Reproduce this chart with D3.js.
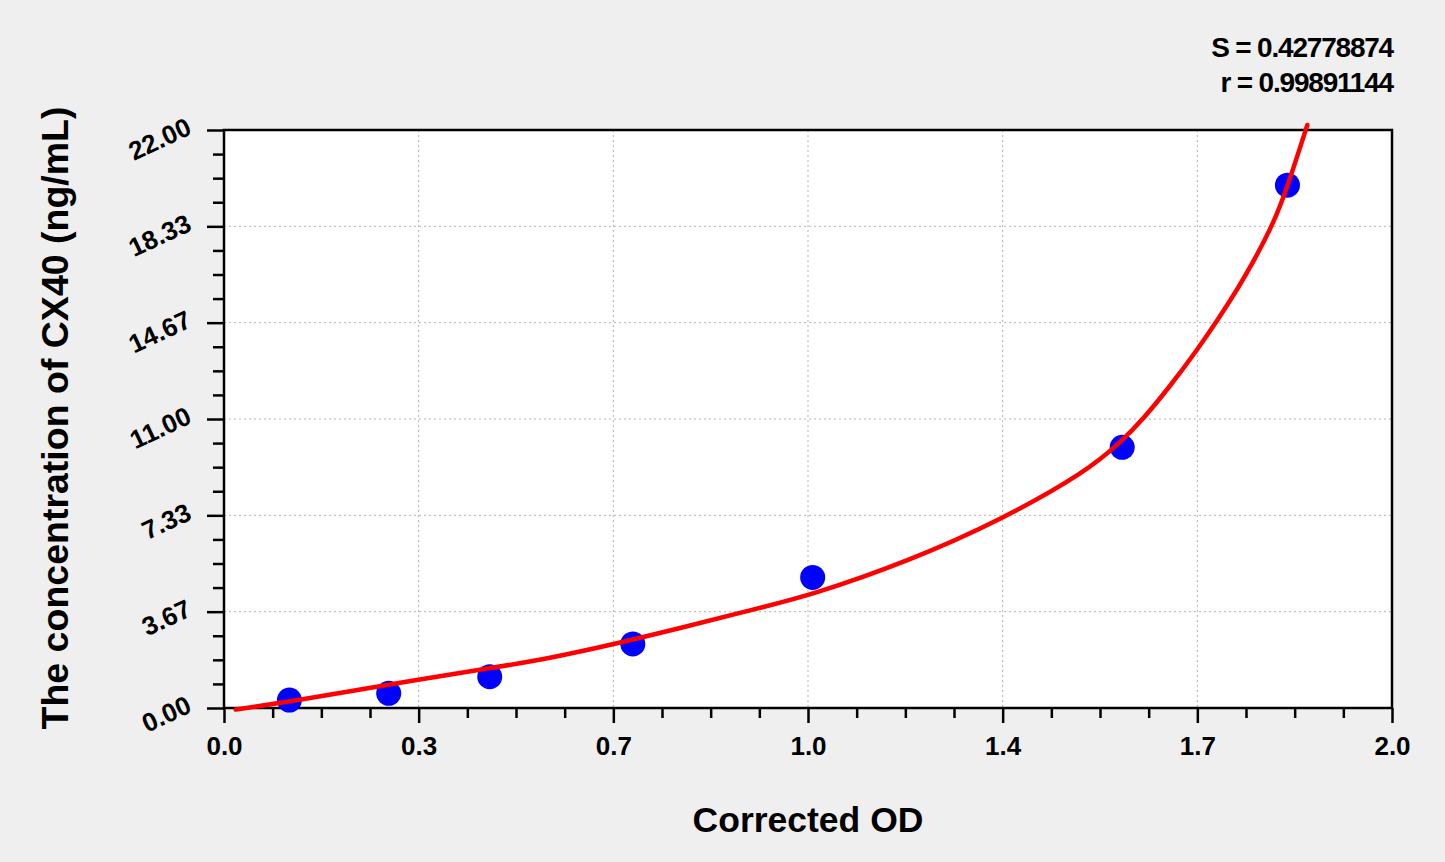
<!DOCTYPE html>
<html>
<head>
<meta charset="utf-8">
<script src="https://cdn.jsdelivr.net/npm/d3@7"></script>
<style>
  body { margin: 0; background: #efefef; }
  svg { display: block; font-family: "Liberation Sans", Arial, sans-serif; }
</style>
</head>
<body>
<svg width="1445" height="862"></svg>
<script>
// standards (corrected OD, concentration)
const odValues = [0.112, 0.282, 0.455, 0.700, 1.008, 1.538, 1.821];
const concValues = [0.30, 0.56, 1.19, 2.44, 4.97, 9.92, 19.9];

// fitted curve
const curveOd = [0.020, 0.130, 0.329, 0.455, 0.558, 0.700, 0.918, 1.000, 1.175, 1.334, 1.477, 1.537, 1.574, 1.620, 1.667, 1.701, 1.737, 1.763, 1.797, 1.819, 1.855];
const curveConc = [-0.06, 0.30, 1.07, 1.51, 1.89, 2.58, 3.82, 4.26, 5.61, 7.20, 9.00, 10.15, 11.00, 12.25, 13.65, 14.75, 16.00, 17.00, 18.45, 19.70, 22.19];

const xTickLabels = ["0.0", "0.3", "0.7", "1.0", "1.4", "1.7", "2.0"];
const yTickLabels = ["0.00", "3.67", "7.33", "11.00", "14.67", "18.33", "22.00"];
const statLines = ["S = 0.42778874", "r = 0.99891144"];

const plotLeft = 224, plotRight = 1392, plotTop = 130, plotBottom = 708;

const x = d3.scaleLinear().domain([0, 2]).range([plotLeft, plotRight]);
const y = d3.scaleLinear().domain([0, 22]).range([plotBottom, plotTop]);

const xMajor = d3.range(7).map(i => i * 2 / 6);
const xMinor = d3.range(25).map(i => i / 12).filter((d, i) => i % 4 !== 0);
const yMajor = d3.range(7).map(i => i * 22 / 6);
const yMinor = d3.range(25).map(i => i * 22 / 24).filter((d, i) => i % 4 !== 0);

const svg = d3.select("svg");

svg.append("rect")
    .attr("x", plotLeft).attr("y", plotTop)
    .attr("width", plotRight - plotLeft).attr("height", plotBottom - plotTop)
    .attr("fill", "#fff");

// grid
const grid = svg.append("g")
    .attr("stroke", "#b4b4b4")
    .attr("stroke-width", 1)
    .attr("stroke-dasharray", "2,3");
grid.selectAll("line.v")
    .data(xMajor.slice(1, -1))
    .enter().append("line")
    .attr("x1", d => x(d)).attr("x2", d => x(d))
    .attr("y1", plotTop).attr("y2", plotBottom);
grid.selectAll("line.h")
    .data(yMajor.slice(1, -1))
    .enter().append("line")
    .attr("x1", plotLeft).attr("x2", plotRight)
    .attr("y1", d => y(d)).attr("y2", d => y(d));

// frame
svg.append("rect")
    .attr("x", plotLeft).attr("y", plotTop)
    .attr("width", plotRight - plotLeft).attr("height", plotBottom - plotTop)
    .attr("fill", "none")
    .attr("stroke", "#000")
    .attr("stroke-width", 2.5);

// axes
function styleAxis(g) {
    g.select(".domain").remove();
    g.selectAll(".tick line").attr("stroke", "#000").attr("stroke-width", 2.5);
    g.selectAll("text")
        .attr("fill", "#000")
        .attr("font-family", "Liberation Sans, Arial, sans-serif")
        .attr("font-size", 26)
        .attr("font-weight", "bold");
}

svg.append("g")
    .attr("transform", `translate(0,${plotBottom})`)
    .call(d3.axisBottom(x).tickValues(xMinor).tickSize(10).tickFormat(""))
    .call(styleAxis);

svg.append("g")
    .attr("transform", `translate(0,${plotBottom})`)
    .call(d3.axisBottom(x).tickValues(xMajor).tickSize(15)
        .tickFormat((d, i) => xTickLabels[i]))
    .call(styleAxis)
    .call(g => g.selectAll("text").attr("y", 47).attr("dy", null));

svg.append("g")
    .attr("transform", `translate(${plotLeft},0)`)
    .call(d3.axisLeft(y).tickValues(yMinor).tickSize(11).tickFormat(""))
    .call(styleAxis);

svg.append("g")
    .attr("transform", `translate(${plotLeft},0)`)
    .call(d3.axisLeft(y).tickValues(yMajor).tickSize(17)
        .tickFormat((d, i) => yTickLabels[i]))
    .call(styleAxis)
    .call(g => g.selectAll("text")
        .attr("x", null).attr("dy", null)
        .attr("text-anchor", "end")
        .attr("transform", "translate(-31,3) rotate(-25)"));

// standards
svg.append("g").selectAll("circle")
    .data(odValues)
    .enter().append("circle")
    .attr("cx", d => x(d))
    .attr("cy", (d, i) => y(concValues[i]))
    .attr("r", 12.5)
    .attr("fill", "#0000ff");

// fitted curve
const line = d3.line()
    .x(d => x(d[0]))
    .y(d => y(d[1]))
    .curve(d3.curveBasis);

svg.append("path")
    .datum(curveOd.map((d, i) => [d, curveConc[i]]))
    .attr("d", line)
    .attr("fill", "none")
    .attr("stroke", "#ff0000")
    .attr("stroke-width", 4.5)
    .attr("stroke-linecap", "round");

// titles
svg.append("text")
    .attr("x", 808)
    .attr("y", 832)
    .attr("text-anchor", "middle")
    .attr("font-size", 35.5)
    .attr("font-weight", "bold")
    .text("Corrected OD");

svg.append("text")
    .attr("transform", "translate(68,418) rotate(-90)")
    .attr("text-anchor", "middle")
    .attr("font-size", 37.5)
    .attr("font-weight", "bold")
    .text("The concentration of CX40 (ng/mL)");

svg.append("g").selectAll("text")
    .data(statLines)
    .enter().append("text")
    .attr("x", plotRight + 1)
    .attr("y", (d, i) => 57 + i * 35)
    .attr("text-anchor", "end")
    .attr("font-size", 28)
    .attr("font-weight", "bold")
    .attr("letter-spacing", -1.2)
    .text(d => d);
</script>
</body>
</html>
